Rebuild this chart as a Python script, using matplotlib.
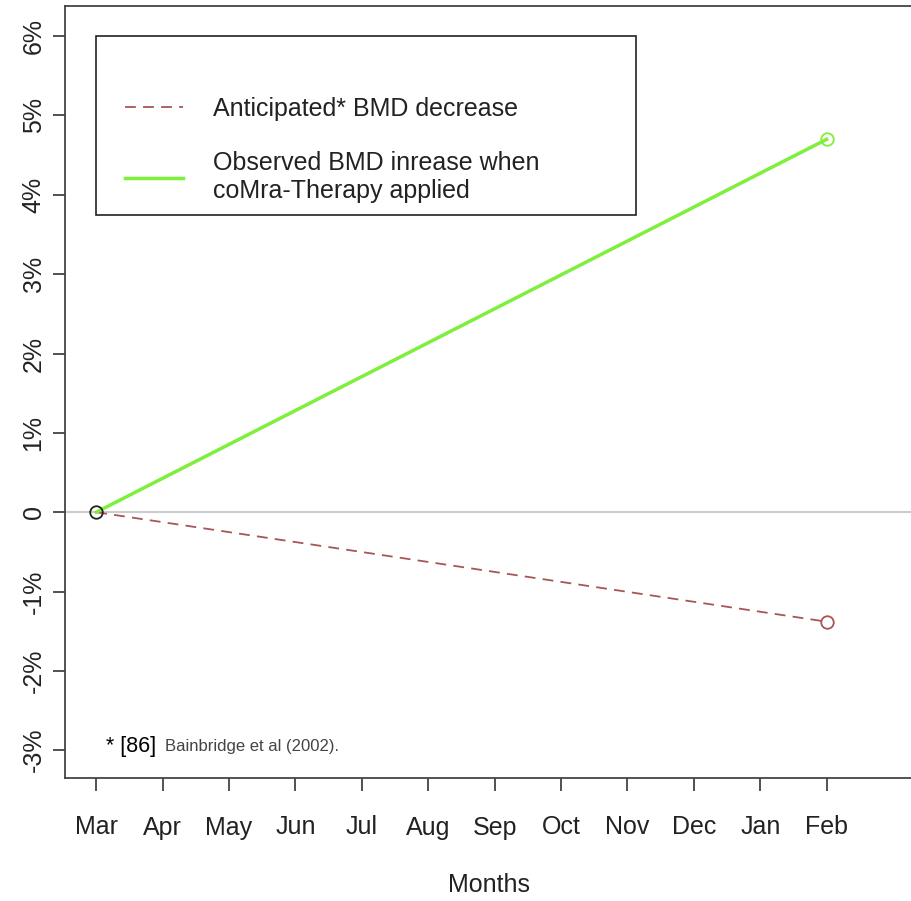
import numpy as np
import matplotlib.pyplot as plt
from matplotlib.lines import Line2D
from matplotlib.legend_handler import HandlerLine2D

plt.rcParams['font.family'] = ['Liberation Sans', 'DejaVu Sans']

months = ["Mar", "Apr", "May", "Jun", "Jul", "Aug", "Sep", "Oct", "Nov", "Dec", "Jan", "Feb"]
point_months = ["Mar", "Feb"]
anticipated = [0.0, -1.38]   # % change in BMD
observed = [0.0, 4.70]       # % change in BMD
yticks = [-3, -2, -1, 0, 1, 2, 3, 4, 5, 6]
ytick_labels = ["-3%", "-2%", "-1%", "0", "1%", "2%", "3%", "4%", "5%", "6%"]

green = "#7ef03c"
brown = "#a65656"
fs = 18

fig = plt.figure(figsize=(9.11, 9.01), dpi=100)
ax = fig.add_axes([65/911, 123/901, 848/911, 772/901])

x = [months.index(m) + 1 for m in point_months]

ax.axhline(0, color="#cccccc", lw=1.5, zorder=1)
ax.plot(x, anticipated, color=brown, ls=(0, (6, 4)), lw=1.3, zorder=2)
ax.plot(x, observed, color=green, lw=2.5, zorder=3)
ax.plot(x[1], anticipated[1], "o", mfc="none", mec=brown, ms=9, mew=1.3, zorder=4)
ax.plot(x[1], observed[1], "o", mfc="none", mec=green, ms=9, mew=1.3, zorder=4)
ax.plot(x[0], anticipated[0], "o", mfc="none", mec="#222222", ms=9, mew=1.3, zorder=5)

ax.set_xlim(0.53, 13.3)
ax.set_ylim(-3.35, 6.38)

ax.set_xticks(range(1, len(months) + 1))
ax.set_xticklabels(months, fontsize=fs, color="#222222")
ax.set_yticks(yticks)
ax.set_yticklabels(ytick_labels, fontsize=fs, color="#222222", rotation=90, va="center")
ax.tick_params(axis="both", direction="out", length=9, width=1.2, colors="#333333",
               labelcolor="#222222")
ax.tick_params(axis="x", pad=18)
ax.tick_params(axis="y", pad=5)

for s in ["left", "top", "bottom"]:
    ax.spines[s].set_color("#444444")
    ax.spines[s].set_linewidth(1.3)
ax.spines["right"].set_visible(False)

ax.set_xlabel("Months", fontsize=fs, color="#222222", labelpad=24)

handles = [Line2D([], [], color="none"),
           Line2D([], [], color=brown, ls=(0, (6, 4)), lw=1.3),
           Line2D([], [], color=green, lw=2.5)]
labels = [" ", "Anticipated* BMD decrease", "Observed BMD inrease when\ncoMra-Therapy applied"]
hmap = {h: HandlerLine2D(xpad=0.66) for h in handles}
leg = ax.legend(handles, labels, loc="upper left", bbox_to_anchor=(1, 6, 8.13, 0),
                bbox_transform=ax.transData, mode="expand", fancybox=False,
                framealpha=1, edgecolor="#222222", fontsize=fs, handlelength=2.98,
                handletextpad=1.2, borderpad=0.5, labelspacing=1.2, borderaxespad=0,
                handler_map=hmap)
leg.get_frame().set_linewidth(1.2)
for t in leg.get_texts():
    t.set_color("#222222")
leg.get_texts()[0].set_fontsize(4)

ax.text(1.15, -2.95, "* [86]", fontsize=15.5, color="black", va="center")
ax.text(2.03, -2.95, "Bainbridge et al (2002).", fontsize=12, color="#444444", va="center")

fig.savefig("out.png", dpi=100)
